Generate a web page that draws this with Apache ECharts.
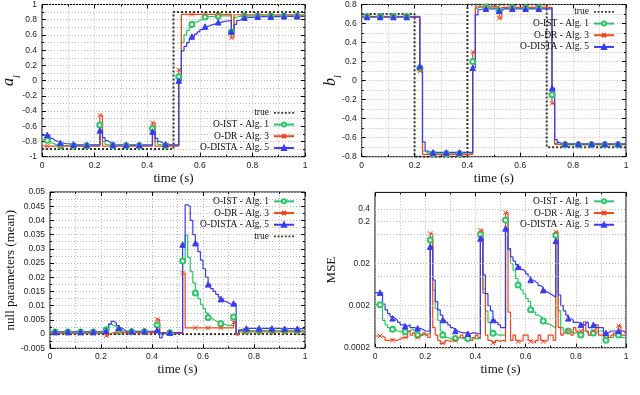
<!DOCTYPE html>
<html><head><meta charset="utf-8">
<script src="https://cdn.jsdelivr.net/npm/echarts@6/dist/echarts.min.js"></script>
<style>html,body{margin:0;padding:0;background:#fff}#c{width:640px;height:395px}</style>
</head><body><div id="c"></div>
<script>
// time grid (s), one value per 0.01 s step
const t = [0,0.01,0.02,0.03,0.04,0.05,0.06,0.07,0.08,0.09,0.1,0.11,0.12,0.13,0.14,0.15,0.16,0.17,0.18,0.19,0.2,0.21,0.22,0.23,0.24,0.25,0.26,0.27,0.28,0.29,0.3,0.31,0.32,0.33,0.34,0.35,0.36,0.37,0.38,0.39,0.4,0.41,0.42,0.43,0.44,0.45,0.46,0.47,0.48,0.49,0.5,0.51,0.52,0.53,0.54,0.55,0.56,0.57,0.58,0.59,0.6,0.61,0.62,0.63,0.64,0.65,0.66,0.67,0.68,0.69,0.7,0.71,0.72,0.73,0.74,0.75,0.76,0.77,0.78,0.79,0.8,0.81,0.82,0.83,0.84,0.85,0.86,0.87,0.88,0.89,0.9,0.91,0.92,0.93,0.94,0.95,0.96,0.97,0.98,0.99,1];

// legend names
const names = ['true', 'O-IST - Alg. 1', 'O-DR - Alg. 3', 'O-DISTA - Alg. 5'];

// ---- a_l (top left)
const trueAT = [0, 0.5, 1];
const trueA = [-0.9, 0.9, 0.9];
const aIST = [-0.78,-0.78,-0.784,-0.82,-0.835,-0.845,-0.85,-0.855,-0.855,-0.855,
-0.855,-0.855,-0.855,-0.855,-0.855,-0.855,-0.855,-0.855,-0.855,-0.855,
-0.855,-0.855,-0.585,-0.80,-0.84,-0.85,-0.855,-0.855,-0.855,-0.855,
-0.855,-0.855,-0.855,-0.855,-0.855,-0.855,-0.855,-0.855,-0.855,-0.855,
-0.855,-0.855,-0.63,-0.80,-0.84,-0.85,-0.855,-0.855,-0.855,-0.855,
-0.855,-0.855,0.05,0.50,0.60,0.66,0.70,0.74,0.77,0.79,
0.81,0.82,0.835,0.84,0.84,0.845,0.845,0.85,0.85,0.85,
0.85,0.85,0.64,0.83,0.845,0.85,0.85,0.85,0.85,0.85,
0.85,0.85,0.85,0.85,0.85,0.85,0.85,0.85,0.85,0.85,
0.85,0.85,0.85,0.85,0.85,0.85,0.85,0.85,0.85,0.85,0.85];
const aDR = [-0.86,-0.86,-0.86,-0.86,-0.86,-0.86,-0.86,-0.86,-0.86,-0.86,
-0.86,-0.86,-0.86,-0.86,-0.86,-0.86,-0.86,-0.86,-0.86,-0.86,
-0.86,-0.86,-0.455,-0.86,-0.86,-0.86,-0.86,-0.86,-0.86,-0.86,
-0.86,-0.86,-0.86,-0.86,-0.86,-0.86,-0.86,-0.86,-0.86,-0.86,
-0.86,-0.86,-0.555,-0.86,-0.86,-0.86,-0.86,-0.86,-0.86,-0.86,
-0.86,-0.86,0.14,0.87,0.87,0.87,0.87,0.87,0.87,0.87,
0.87,0.87,0.87,0.87,0.87,0.87,0.87,0.87,0.87,0.87,
0.87,0.87,0.56,0.865,0.865,0.865,0.865,0.865,0.865,0.865,
0.865,0.865,0.865,0.865,0.865,0.865,0.865,0.865,0.865,0.865,
0.865,0.865,0.865,0.865,0.865,0.865,0.865,0.865,0.865,0.865,0.865];
const aDISTA = [-0.72,-0.72,-0.715,-0.76,-0.785,-0.80,-0.81,-0.82,-0.83,-0.83,
-0.835,-0.835,-0.84,-0.845,-0.845,-0.845,-0.845,-0.845,-0.845,-0.845,
-0.845,-0.845,-0.655,-0.75,-0.79,-0.81,-0.83,-0.84,-0.845,-0.845,
-0.845,-0.845,-0.845,-0.845,-0.845,-0.845,-0.845,-0.845,-0.845,-0.845,
-0.845,-0.845,-0.67,-0.76,-0.80,-0.82,-0.83,-0.835,-0.845,-0.845,
-0.845,-0.845,0.0,0.39,0.45,0.50,0.55,0.58,0.61,0.64,
0.67,0.69,0.71,0.725,0.735,0.745,0.755,0.766,0.775,0.78,
0.785,0.79,0.645,0.74,0.79,0.81,0.82,0.827,0.83,0.83,
0.83,0.83,0.84,0.84,0.84,0.84,0.84,0.84,0.84,0.84,
0.845,0.845,0.845,0.845,0.845,0.845,0.845,0.845,0.845,0.845,0.845];

// ---- b_l (top right)
const trueBT = [0, 0.2, 0.4, 0.7, 1];
const trueB = [0.7, -0.8, 0.8, -0.7, -0.7];
const bIST = [0.675,0.675,0.675,0.675,0.675,0.675,0.675,0.675,0.675,0.675,
0.675,0.675,0.675,0.675,0.675,0.675,0.675,0.675,0.675,0.675,
0.675,0.675,0.13,-0.74,-0.76,-0.77,-0.77,-0.77,-0.77,-0.77,
-0.77,-0.77,-0.77,-0.77,-0.77,-0.77,-0.77,-0.77,-0.77,-0.77,
-0.77,-0.77,0.20,0.76,0.775,0.775,0.775,0.775,0.775,0.775,
0.775,0.775,0.735,0.765,0.765,0.765,0.765,0.765,0.765,0.765,
0.765,0.765,0.765,0.765,0.765,0.765,0.765,0.765,0.765,0.765,
0.765,0.765,-0.15,-0.66,-0.675,-0.675,-0.675,-0.675,-0.675,-0.675,
-0.675,-0.675,-0.675,-0.675,-0.675,-0.675,-0.675,-0.675,-0.675,-0.675,
-0.675,-0.675,-0.675,-0.675,-0.675,-0.675,-0.675,-0.675,-0.675,-0.675,-0.675];
const bDR = [0.672,0.672,0.672,0.672,0.672,0.672,0.672,0.672,0.672,0.672,
0.672,0.672,0.672,0.672,0.672,0.672,0.672,0.672,0.672,0.672,
0.672,0.672,0.10,-0.775,-0.775,-0.775,-0.775,-0.775,-0.775,-0.775,
-0.775,-0.775,-0.775,-0.775,-0.775,-0.775,-0.775,-0.775,-0.775,-0.775,
-0.775,-0.775,0.30,0.775,0.775,0.775,0.775,0.775,0.775,0.775,
0.775,0.775,0.655,0.77,0.77,0.77,0.77,0.77,0.77,0.77,
0.77,0.77,0.77,0.77,0.77,0.77,0.77,0.77,0.77,0.77,
0.77,0.77,-0.24,-0.67,-0.67,-0.67,-0.67,-0.67,-0.67,-0.67,
-0.67,-0.67,-0.67,-0.67,-0.67,-0.67,-0.67,-0.67,-0.67,-0.67,
-0.67,-0.67,-0.67,-0.67,-0.67,-0.67,-0.67,-0.67,-0.67,-0.67,-0.67];
const bDISTA = [0.668,0.668,0.668,0.668,0.668,0.668,0.668,0.668,0.668,0.668,
0.668,0.668,0.668,0.668,0.668,0.668,0.668,0.668,0.668,0.668,
0.668,0.668,0.152,-0.645,-0.74,-0.755,-0.755,-0.755,-0.755,-0.755,
-0.755,-0.755,-0.755,-0.755,-0.755,-0.755,-0.755,-0.755,-0.755,-0.755,
-0.755,-0.755,0.135,0.69,0.745,0.755,0.755,0.755,0.755,0.755,
0.755,0.755,0.735,0.755,0.755,0.755,0.755,0.755,0.755,0.755,
0.755,0.755,0.755,0.755,0.755,0.755,0.755,0.755,0.755,0.755,
0.755,0.755,-0.08,-0.62,-0.65,-0.665,-0.665,-0.665,-0.665,-0.665,
-0.665,-0.665,-0.665,-0.665,-0.665,-0.665,-0.665,-0.665,-0.665,-0.665,
-0.665,-0.665,-0.665,-0.665,-0.665,-0.665,-0.665,-0.665,-0.665,-0.665,-0.665];

// ---- null parameters (bottom left)
const trueCT = [0, 1];
const trueC = [0, 0];
const cIST = [0.0007,0.0007,0.0007,0.0007,0.0007,0.0007,0.0007,0.0007,0.0007,0.0007,
0.0007,0.0007,0.0007,0.0007,0.0007,0.0007,0.0007,0.0007,0.0007,0.0007,
0.0007,0.0007,0.0015,0.0035,0.003,0.0025,0.002,0.0012,0.0008,0.0008,
0.0008,0.0008,0.0008,0.0008,0.0008,0.0008,0.0008,0.0008,0.0008,0.0008,
0.0008,0.0008,0.0032,0.0005,0.0005,0.0005,0.0005,0.0005,0.0005,0.0005,
0.0005,0.0005,0.0257,0.0348,0.027,0.022,0.018,0.0145,0.0125,0.0105,
0.009,0.0075,0.0058,0.0052,0.0047,0.0043,0.004,0.0036,0.0033,0.003,
0.003,0.003,0.006,-0.0002,0.0012,0.0012,0.0012,0.0012,0.0012,0.0012,
0.0012,0.0012,0.0012,0.0012,0.0012,0.0012,0.0012,0.0012,0.0012,0.0012,
0.0012,0.0012,0.0012,0.0012,0.0012,0.0012,0.0012,0.0012,0.0012,0.0012,0.0012];
const cDR = [0.0002,0.0002,0.0002,0.0002,0.0002,0.0002,0.0002,0.0002,0.0002,0.0002,
0.0002,0.0002,0.0002,0.0002,0.0002,0.0002,0.0002,0.0002,0.0002,0.0002,
0.0002,0.0002,-0.0006,0.0002,0.0005,0.0005,0.0005,0.0005,0.0005,0.0005,
0.0005,0.0005,0.0005,0.0005,0.0005,0.0005,0.0005,0.0005,0.0005,0.0005,
0.0005,0.0005,0.0052,0.0002,0.0002,0.0002,0.0002,0.0002,0.0002,0.0002,
0.0002,0.0002,0.0215,0.0022,0.0022,0.0022,0.0022,0.0022,0.0022,0.0022,
0.0022,0.0022,0.0022,0.0022,0.0022,0.0022,0.0022,0.0022,0.0022,0.0022,
0.0022,0.0022,0.0041,-0.0003,0.0008,0.0008,0.0008,0.0008,0.0008,0.0008,
0.0008,0.0008,0.0008,0.0008,0.0008,0.0008,0.0008,0.0008,0.0008,0.0008,
0.0008,0.0008,0.0008,0.0008,0.0008,0.0008,0.0008,0.0008,0.0008,0.0008,0.0008];
const cDISTA = [0.0008,0.0008,0.0008,0.0008,0.0008,0.0008,0.0008,0.0008,0.0008,0.0008,
0.0008,0.0008,0.0008,0.0008,0.0008,0.0008,0.0008,0.0008,0.0008,0.0008,
0.0008,0.0008,0.0012,0.0035,0.0045,0.004,0.003,0.0022,0.0015,0.001,
0.001,0.001,0.001,0.001,0.001,0.001,0.001,0.001,0.001,0.001,
0.001,0.001,0.0014,-0.0013,0.0005,0.0005,0.0005,0.0005,0.0005,0.0005,
0.0005,0.0005,0.0315,0.0455,0.045,0.040,0.035,0.032,0.029,0.026,
0.023,0.020,0.0175,0.016,0.015,0.014,0.013,0.0123,0.0115,0.011,
0.0105,0.0105,0.0108,0.0003,0.0015,0.0018,0.002,0.002,0.002,0.002,
0.002,0.002,0.002,0.002,0.002,0.002,0.002,0.002,0.002,0.002,
0.0019,0.0019,0.0019,0.0019,0.0019,0.0019,0.0019,0.0019,0.0019,0.0019,0.0019];

// ---- MSE (bottom right, log scale)
const mseTicks = [0.0002, 0.002, 0.02, 0.2, 0.4];
const mseGrid = [0.0002, 0.001, 0.002, 0.01, 0.02, 0.1, 0.2, 0.4];
const dIST = [0.0021,0.0021,0.0021,0.0009,0.0007,0.0006,0.00058,0.00055,0.0005,0.00048,
0.00048,0.00048,0.00048,0.0005,0.00055,0.0005,0.00045,0.0004,0.0004,0.00042,
0.00042,0.00045,0.073,0.0047,0.0017,0.0009,0.0005,0.0004,0.00035,0.00033,
0.00033,0.00035,0.00033,0.00035,0.00033,0.00033,0.00035,0.00033,0.00035,0.00033,
0.00033,0.00033,0.1,0.005,0.0015,0.0008,0.0005,0.00044,0.0004,0.0004,
0.0004,0.0004,0.22,0.042,0.02,0.014,0.009,0.0062,0.0048,0.0038,
0.003,0.0025,0.0016,0.0014,0.0012,0.0011,0.001,0.00086,0.00075,0.0007,
0.00065,0.0006,0.096,0.0015,0.0006,0.0005,0.0005,0.0005,0.00045,0.00045,
0.0005,0.0004,0.0004,0.0005,0.00045,0.0004,0.0004,0.00045,0.0005,0.0005,
0.0005,0.0003,0.0003,0.00035,0.00035,0.0004,0.0004,0.0004,0.00035,0.00035,0.00035];
const dDR = [0.00038,0.00038,0.00038,0.00035,0.0003,0.0003,0.00032,0.0003,0.0003,0.00032,
0.00035,0.00035,0.00035,0.0005,0.0004,0.00045,0.00035,0.00035,0.0004,0.00045,
0.0004,0.00035,0.105,0.0006,0.0004,0.0003,0.00025,0.00026,0.0003,0.00028,
0.0003,0.00035,0.0003,0.00035,0.0004,0.00035,0.0003,0.0004,0.0003,0.00035,
0.0004,0.00035,0.126,0.004,0.0004,0.0003,0.00028,0.00026,0.0003,0.00028,
0.0003,0.00028,0.33,0.0014,0.0003,0.0004,0.0003,0.00028,0.0003,0.0004,
0.0004,0.0003,0.00028,0.00026,0.0003,0.0004,0.0003,0.00028,0.0003,0.0004,
0.0004,0.0003,0.115,0.0006,0.0004,0.00045,0.0005,0.0005,0.0004,0.0006,
0.0005,0.0004,0.0005,0.00083,0.0005,0.0004,0.00045,0.0005,0.0007,0.0004,
0.0004,0.0004,0.0004,0.00035,0.0004,0.00045,0.0005,0.00067,0.0004,0.0004,0.0004];
const dDISTA = [0.0041,0.0041,0.0041,0.0022,0.0016,0.0013,0.0011,0.001,0.0009,0.0008,
0.0007,0.0007,0.00065,0.0007,0.0006,0.0006,0.00055,0.00058,0.00055,0.0005,
0.0005,0.0005,0.051,0.0082,0.0025,0.0016,0.0012,0.00091,0.0008,0.0007,
0.0006,0.00055,0.0005,0.00047,0.00045,0.00045,0.00045,0.00043,0.00045,0.00045,
0.00043,0.00043,0.08,0.0108,0.0039,0.002,0.0015,0.00091,0.0008,0.0007,
0.0006,0.0006,0.138,0.046,0.029,0.023,0.019,0.0169,0.0145,0.013,
0.0115,0.0098,0.0082,0.0075,0.0068,0.006,0.0055,0.0047,0.0042,0.0038,
0.0035,0.0032,0.07,0.0036,0.002,0.0015,0.0012,0.001,0.0009,0.0008,
0.0008,0.00075,0.0007,0.0007,0.0008,0.0006,0.0006,0.0007,0.0006,0.0006,
0.0006,0.00045,0.00045,0.0005,0.0005,0.0005,0.00045,0.0005,0.0005,0.00045,0.00045];

// ---- styling
const GREEN = '#2bc764', RED = '#f2451d', BLUE = '#3b3bf2', TRUEC = '#333333';
const SERIF = 'Liberation Serif', SANS = 'Liberation Sans';
const XPATH = 'path://M0,0L10,10M10,0L0,10';
const DOTS = 'path://M0,0h2v2h-2zM4,0h2v2h-2zM8,0h2v2h-2zM12,0h2v2h-2zM16,0h2v2h-2zM20,0h2v2h-2z';
const grids = [
  {left: 41.7, top: 2.7, width: 263.3, height: 154},
  {left: 361.7, top: 2.7, width: 264.3, height: 154},
  {left: 50, top: 192, width: 255, height: 156.3},
  {left: 375, top: 192.4, width: 251, height: 155.3}
].map(g => Object.assign(g, {show: true, borderColor: '#000', borderWidth: 1, backgroundColor: 'transparent', containLabel: false}));

const gridLine = {show: true, lineStyle: {color: '#b8b8b8', type: [1, 2], width: 1}};
const tickStyle = {show: true, inside: true, length: 4, lineStyle: {color: '#000'}};
const minorTick = {show: true, splitNumber: 2, length: 2, lineStyle: {color: '#000'}};
const lbl = {fontFamily: SANS, fontSize: 8.5, color: '#222'};

function xAx(gi, mirror) {
  return {
    type: 'value', gridIndex: gi, min: 0, max: 1, interval: 0.2,
    position: mirror ? 'top' : 'bottom',
    axisLine: {show: false, onZero: false}, axisTick: tickStyle, minorTick: minorTick,
    axisLabel: mirror ? {show: false} : Object.assign({margin: 4}, lbl),
    splitLine: mirror ? {show: false} : gridLine,
    minorSplitLine: mirror ? {show: false} : gridLine,
    name: mirror ? '' : 'time (s)', nameLocation: 'middle', nameGap: 15,
    nameTextStyle: {fontFamily: SERIF, fontSize: 13, color: '#111'}
  };
}
function yAx(gi, min, max, interval, mirror, name, nameGap, nts, noMove) {
  const ax = {
    type: 'value', gridIndex: gi, min: min, max: max, interval: interval,
    position: mirror ? 'right' : 'left',
    axisLine: {show: false, onZero: false}, axisTick: tickStyle, minorTick: minorTick,
    axisLabel: mirror ? {show: false} : Object.assign({margin: 5}, lbl),
    splitLine: mirror ? {show: false} : gridLine,
    minorSplitLine: mirror ? {show: false} : gridLine,
    name: mirror ? '' : name, nameLocation: 'middle', nameGap: nameGap,
    nameTextStyle: nts
  };
  if (noMove) ax.nameMoveOverlap = false;
  return ax;
}
const subRich = {
  a: {fontFamily: SERIF, fontStyle: 'italic', fontSize: 16, color: '#111', verticalAlign: 'top', padding: [0, 0, 5, 0]},
  s: {fontFamily: SERIF, fontStyle: 'italic', fontSize: 10, color: '#111', verticalAlign: 'bottom'}
};

const xAxis = [xAx(0), xAx(1), xAx(2), xAx(3), xAx(0, true), xAx(1, true), xAx(2, true), xAx(3, true)];
const yAxis = [
  yAx(0, -1, 1, 0.2, false, '{a|a}{s|l}', 20, {rich: subRich}, true),
  yAx(1, -0.8, 0.8, 0.2, false, '{a|b}{s|l}', 18, {rich: subRich}, true),
  yAx(2, -0.005, 0.05, 0.005, false, 'null parameters (mean)', 32, {fontFamily: SERIF, fontSize: 13, color: '#111'}),
  {
    type: 'log', logBase: 10, gridIndex: 3, min: 0.0002, max: 1,
    axisLine: {show: false, onZero: false}, axisTick: {show: false}, axisLabel: {show: false},
    splitLine: {show: false}, minorTick: {show: false}, minorSplitLine: {show: false},
    name: 'MSE', nameLocation: 'middle', nameGap: 37,
    nameTextStyle: {fontFamily: SERIF, fontSize: 13, color: '#111'}
  },
  yAx(0, -1, 1, 0.2, true), yAx(1, -0.8, 0.8, 0.2, true), yAx(2, -0.005, 0.05, 0.005, true)
];

function est(name, vals, gi, symbol, color, size) {
  return {
    type: 'line', name: name, xAxisIndex: gi, yAxisIndex: gi,
    data: t.map((x, i) => [x, vals[i]]), step: 'end',
    symbol: symbol, symbolSize: (v, p) => (p.dataIndex % 5 === 2) ? size : 0,
    showSymbol: true, showAllSymbol: true,
    lineStyle: {color: color, width: 1.2},
    itemStyle: {color: color, borderColor: color, borderWidth: 1},
    animation: false, z: 3
  };
}
function truth(tt, vals, gi) {
  return {
    type: 'line', name: 'true', xAxisIndex: gi, yAxisIndex: gi,
    data: tt.map((x, i) => [x, vals[i]]), step: 'end', symbol: 'none',
    lineStyle: {color: TRUEC, width: 2, type: [2, 2]},
    itemStyle: {color: TRUEC},
    animation: false, z: 2
  };
}
function group(gi, ist, dr, dista) {
  return [
    est(names[1], ist, gi, 'emptyCircle', GREEN, 5),
    est(names[2], dr, gi, XPATH, RED, 4.5),
    est(names[3], dista, gi, 'triangle', BLUE, 5.5)
  ];
}

const series = [].concat(
  [truth(trueAT, trueA, 0)], group(0, aIST, aDR, aDISTA),
  [truth(trueBT, trueB, 1)], group(1, bIST, bDR, bDISTA),
  [truth(trueCT, trueC, 2)], group(2, cIST, cDR, cDISTA),
  group(3, dIST, dDR, dDISTA),
  [{
    type: 'line', name: 'mse-grid', xAxisIndex: 3, yAxisIndex: 3, data: [], z: 1,
    markLine: {
      silent: true, symbol: ['none', 'none'], animation: false, precision: 8,
      lineStyle: {color: '#b8b8b8', type: [1, 2], width: 1},
      label: Object.assign({show: true, position: 'start', distance: 5, formatter: '{c}'}, lbl),
      emphasis: {disabled: true},
      data: mseGrid.map(v => ({yAxis: v, label: {show: mseTicks.indexOf(v) >= 0}}))
    }
  }]
);

function legendItems(list) {
  return list.map(n => n === 'true' ? {name: n, icon: DOTS, itemStyle: {color: TRUEC}} : {name: n});
}
function legend(right, top, data) {
  return {
    orient: 'vertical', align: 'right', right: right, top: top, padding: 0,
    itemGap: 0, itemWidth: 20, itemHeight: 5, data: legendItems(data),
    selectedMode: false, inactiveColor: '#000',
    textStyle: {fontFamily: SERIF, fontSize: 9.5, color: '#111', lineHeight: 11.7}
  };
}

const option = {
  animation: false,
  grid: grids,
  xAxis: xAxis,
  yAxis: yAxis,
  legend: [
    legend(345, 107, [names[0], names[1], names[2], names[3]]),
    legend(25, 6, [names[0], names[1], names[2], names[3]]),
    legend(345, 195.5, [names[1], names[2], names[3], names[0]]),
    legend(25, 195.5, [names[1], names[2], names[3]])
  ],
  series: series
};
const chart = echarts.init(document.getElementById('c'), null, {renderer: 'canvas'});
chart.setOption(option);
</script></body></html>
